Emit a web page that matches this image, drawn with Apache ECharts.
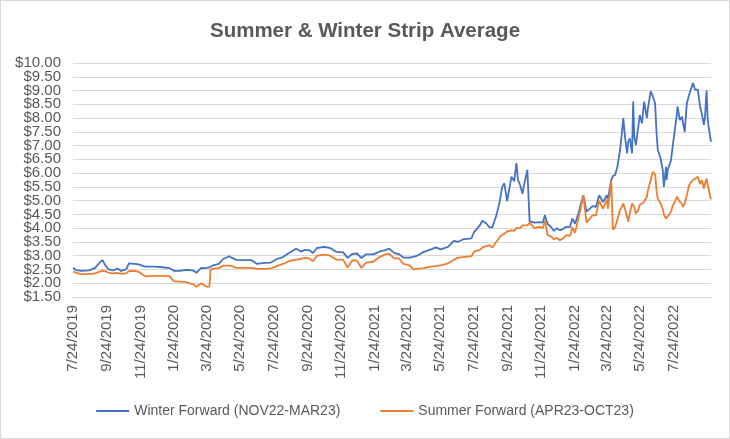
<!DOCTYPE html>
<html>
<head>
<meta charset="utf-8">
<script src="https://cdn.jsdelivr.net/npm/echarts@6/dist/echarts.min.js"></script>
<style>
html,body{margin:0;padding:0;background:#fff;}
#c{width:728px;height:437px;border:1px solid #d9d9d9;}
</style>
</head>
<body>
<div id="c"></div>
<script>
const titleText = 'Summer & Winter Strip Average';
const winterName = 'Winter Forward (NOV22-MAR23)';
const summerName = 'Summer Forward (APR23-OCT23)';
const axisStart = '7/24/2019';
const axisEnd = '9/30/2022';
const yMin = 1.5, yMax = 10, yStep = 0.5;
const xTickLabels = ['7/24/2019','9/24/2019','11/24/2019','1/24/2020','3/24/2020','5/24/2020','7/24/2020','9/24/2020',
  '11/24/2020','1/24/2021','3/24/2021','5/24/2021','7/24/2021','9/24/2021','11/24/2021','1/24/2022','3/24/2022',
  '5/24/2022','7/24/2022'];

const dates = [
'7/24/2019','7/29/2019','8/9/2019','8/22/2019','9/2/2019','9/12/2019','9/16/2019','9/21/2019','9/27/2019','10/5/2019',
'10/13/2019','10/20/2019','10/29/2019','11/3/2019','11/14/2019','11/22/2019','11/29/2019','12/4/2019','12/19/2019','1/3/2020',
'1/16/2020','1/24/2020','2/4/2020','2/13/2020','2/22/2020','3/1/2020','3/5/2020','3/14/2020','3/20/2020','3/24/2020',
'3/29/2020','3/31/2020','4/6/2020','4/15/2020','4/23/2020','5/4/2020','5/9/2020','5/17/2020','5/31/2020','6/13/2020',
'6/24/2020','7/7/2020','7/19/2020','7/30/2020','8/10/2020','8/21/2020','9/3/2020','9/12/2020','9/18/2020','9/27/2020',
'10/4/2020','10/11/2020','10/24/2020','11/4/2020','11/15/2020','11/28/2020','12/6/2020','12/15/2020','12/23/2020','12/31/2020',
'1/9/2021','1/22/2021','2/2/2021','2/13/2021','2/20/2021','3/1/2021','3/10/2021','3/18/2021','3/29/2021','4/5/2021',
'4/12/2021','4/24/2021','5/7/2021','5/16/2021','5/25/2021','6/7/2021','6/18/2021','6/25/2021','7/4/2021','7/20/2021',
'7/25/2021','7/29/2021','8/4/2021','8/9/2021','8/16/2021','8/22/2021','8/27/2021','9/3/2021','9/7/2021','9/10/2021',
'9/14/2021','9/18/2021','9/23/2021','10/1/2021','10/6/2021','10/10/2021','10/13/2021','10/17/2021','10/21/2021','10/24/2021',
'10/30/2021','11/1/2021','11/3/2021','11/12/2021','11/21/2021','11/27/2021','12/1/2021','12/6/2021','12/12/2021','12/17/2021',
'12/23/2021','12/28/2021','1/3/2022','1/9/2022','1/16/2022','1/20/2022','1/25/2022','1/31/2022','2/4/2022','2/9/2022',
'2/15/2022','2/18/2022','2/26/2022','3/4/2022','3/10/2022','3/17/2022','3/24/2022','3/26/2022','4/1/2022','4/4/2022',
'4/8/2022','4/12/2022','4/17/2022','4/21/2022','4/23/2022','4/26/2022','4/30/2022','5/2/2022','5/5/2022','5/9/2022',
'5/11/2022','5/13/2022','5/16/2022','5/20/2022','5/23/2022','5/27/2022','5/31/2022','6/5/2022','6/7/2022','6/12/2022',
'6/16/2022','6/20/2022','6/23/2022','6/25/2022','6/30/2022','7/4/2022','7/6/2022','7/10/2022','7/11/2022','7/13/2022',
'7/19/2022','7/22/2022','7/26/2022','7/30/2022','7/31/2022','8/4/2022','8/8/2022','8/10/2022','8/13/2022','8/17/2022',
'8/21/2022','8/24/2022','8/28/2022','9/1/2022','9/6/2022','9/10/2022','9/13/2022','9/17/2022','9/19/2022','9/22/2022',
'9/24/2022','9/26/2022','9/30/2022'
];

const winter = [
2.56,2.48,2.45,2.47,2.55,2.78,2.84,2.65,2.50,2.47,
2.53,2.45,2.50,2.72,2.70,2.68,2.62,2.60,2.60,2.58,
2.55,2.45,2.45,2.48,2.48,2.45,2.38,2.56,2.55,2.56,
2.58,2.60,2.66,2.70,2.88,2.98,2.92,2.85,2.84,2.84,
2.70,2.74,2.75,2.88,2.95,3.10,3.25,3.15,3.20,3.20,
3.10,3.28,3.32,3.28,3.14,3.12,2.92,3.07,3.08,2.92,
3.05,3.05,3.15,3.20,3.26,3.10,3.05,2.93,2.93,2.96,
3.00,3.14,3.23,3.30,3.23,3.32,3.54,3.50,3.59,3.63,
3.87,3.95,4.10,4.27,4.17,4.03,4.03,4.44,4.75,5.02,
5.50,5.63,4.98,5.87,5.70,6.36,5.75,5.55,5.25,5.57,
6.12,6.18,4.25,4.20,4.22,4.20,4.47,4.15,4.05,3.90,
4.00,3.92,3.97,4.05,4.05,4.35,4.16,4.53,4.83,5.20,
4.60,4.65,4.80,4.77,5.20,4.95,5.20,5.07,5.74,5.90,
5.93,6.20,6.84,7.57,8.00,7.33,6.72,7.14,7.26,6.72,
8.60,7.33,7.02,7.63,8.11,7.81,8.60,8.00,8.36,8.97,
8.78,8.54,7.33,6.84,6.54,6.11,5.50,6.23,5.75,6.11,
6.47,6.96,7.57,8.18,8.42,7.93,8.05,7.81,7.50,8.54,
8.84,9.03,9.27,9.03,9.03,8.42,8.18,7.75,8.05,9.00,
7.93,7.63,7.14
];

const summer = [
2.42,2.38,2.33,2.33,2.36,2.43,2.45,2.44,2.38,2.36,
2.38,2.34,2.36,2.44,2.45,2.40,2.30,2.25,2.27,2.27,
2.26,2.08,2.06,2.05,2.00,1.95,1.87,2.00,1.92,1.87,
1.88,2.50,2.53,2.55,2.64,2.64,2.62,2.56,2.56,2.56,
2.52,2.52,2.54,2.62,2.70,2.80,2.86,2.88,2.92,2.90,
2.80,3.00,3.04,3.00,2.86,2.86,2.57,2.84,2.82,2.56,
2.75,2.78,2.95,3.05,3.07,2.90,2.90,2.70,2.65,2.50,
2.52,2.55,2.60,2.62,2.65,2.72,2.85,2.92,2.95,2.98,
3.15,3.18,3.20,3.30,3.35,3.38,3.30,3.50,3.60,3.70,
3.75,3.80,3.88,3.92,3.90,4.00,4.05,4.00,4.10,4.05,
4.10,4.15,4.20,4.00,4.05,4.00,4.28,3.75,3.70,3.60,
3.65,3.56,3.62,3.75,3.72,4.04,3.83,4.35,4.70,5.20,
4.20,4.25,4.47,4.47,5.00,4.70,5.05,4.70,5.68,3.95,
4.04,4.30,4.65,4.80,4.90,4.70,4.41,4.23,4.55,4.90,
4.90,4.77,4.53,4.65,4.84,4.90,4.96,5.14,5.38,5.75,
6.05,5.95,5.30,5.08,4.90,4.70,4.50,4.35,4.29,4.30,
4.60,4.80,4.96,5.14,5.10,4.96,4.90,4.77,4.90,5.20,
5.56,5.65,5.75,5.80,5.87,5.60,5.75,5.44,5.60,5.80,
5.56,5.50,5.05
];

function parseMDY(s){const p=s.split('/').map(Number);return new Date(p[2],p[0]-1,p[1]);}
function fmt(d){return (d.getMonth()+1)+'/'+d.getDate()+'/'+d.getFullYear();}
const categories=[];
for(let d=parseMDY(axisStart), e=parseMDY(axisEnd); d<=e; d.setDate(d.getDate()+1)) categories.push(fmt(d));
const labelSet = new Set(xTickLabels);
const money = v => '$' + v.toFixed(2);

const font = '"Liberation Sans", Arial, sans-serif';
const yLabelStyle = {fontFamily:font,fontSize:15,color:'#595959',margin:12,hideOverlap:false};
const chart = echarts.init(document.getElementById('c'));
chart.setOption({
  animation:false,
  backgroundColor:'#ffffff',
  title:{text:titleText,left:'center',top:15,textStyle:{fontFamily:font,fontSize:20.5,fontWeight:'bold',color:'#595959'}},
  grid:{left:72,right:18,top:62,bottom:141,containLabel:false},
  legend:{top:398,left:'center',icon:'rect',itemWidth:33,itemHeight:2,itemGap:40,
    textStyle:{fontFamily:font,fontSize:14,color:'#595959'},data:[winterName,summerName]},
  xAxis:{type:'category',data:categories,boundaryGap:false,
    axisLine:{lineStyle:{color:'#d9d9d9',width:1}},axisTick:{show:false},
    axisLabel:{rotate:90,fontFamily:font,fontSize:15,color:'#595959',margin:8,hideOverlap:false,
      interval:function(i,v){return labelSet.has(v);}},
    splitLine:{show:false}},
  yAxis:[
    {type:'value',min:yMin,max:yMax,interval:yStep,position:'left',
     axisLine:{show:false},axisTick:{show:false},
     axisLabel:Object.assign({},yLabelStyle,{showMinLabel:false,showMaxLabel:false,formatter:money}),
     splitLine:{lineStyle:{color:'#d9d9d9',width:1}}},
    {type:'value',min:yMin,max:yMax,interval:yStep,position:'left',offset:0,
     axisLine:{show:false},axisTick:{show:false},splitLine:{show:false},
     axisLabel:Object.assign({},yLabelStyle,{showMinLabel:true,showMaxLabel:true,
       formatter:function(v){return (v===yMin||v===yMax)?money(v):'';}})}
  ],
  series:[
    {name:winterName,type:'line',showSymbol:false,yAxisIndex:0,data:dates.map((d,i)=>[d,winter[i]]),
     lineStyle:{color:'#4472C4',width:1.8},itemStyle:{color:'#4472C4'}},
    {name:summerName,type:'line',showSymbol:false,yAxisIndex:0,data:dates.map((d,i)=>[d,summer[i]]),
     lineStyle:{color:'#ED7D31',width:1.8},itemStyle:{color:'#ED7D31'}}
  ]
});
</script>
</body>
</html>
